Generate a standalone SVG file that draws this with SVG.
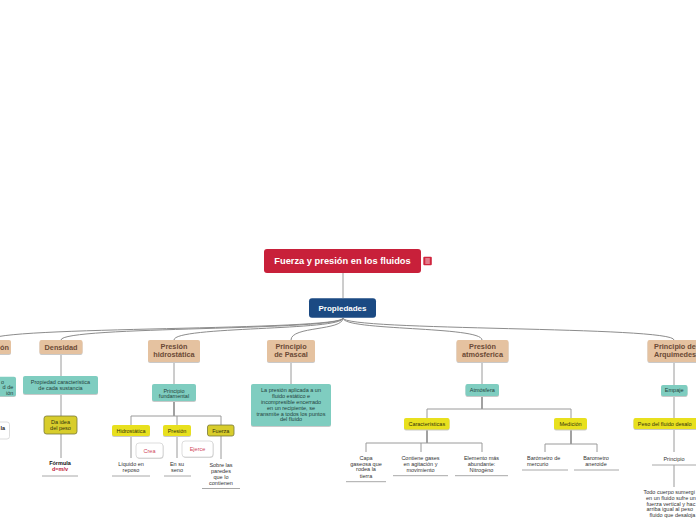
<svg xmlns="http://www.w3.org/2000/svg" width="696" height="520" viewBox="0 0 696 520">
<style>
text{font-family:"Liberation Sans",Arial,sans-serif}
.bg{fill:#ffffff}
.c{fill:none;stroke:#8c8c8c;stroke-width:1}
.t{fill:none;stroke:#9a9a9a;stroke-width:1}
.tk{fill:none;stroke:#6f6f6f;stroke-width:1.3}
.ul{fill:none;stroke:#a8a8a8;stroke-width:1}
.sh{fill:#c9c9c9}
.tan{fill:#e5c2a0}
.teal{fill:#7fcdc0}
.yel{fill:#e8e01e}
.dyel{fill:#d8cd2c;stroke:#77773a;stroke-width:0.8}
.call{fill:#ffffff;stroke:#d4d4d4;stroke-width:0.8}
.lt{font-size:7.3px;font-weight:bold;fill:#6b4a36;text-anchor:middle}
.s{font-size:5.5px;fill:#333333;text-anchor:middle}
.st{font-size:5.5px;fill:#1f3f3b;text-anchor:middle}
.sy{font-size:5.5px;fill:#33330c;text-anchor:middle}
.red{font-size:5.5px;fill:#d0455a;text-anchor:middle}
</style>
<rect class="bg" x="0" y="0" width="696" height="520"/>

<g id="connectors">
<line class="t" x1="343" y1="273" x2="343" y2="298"/>
<path class="c" d="M343,318 C343,331 -10,326 -10,340"/>
<path class="c" d="M343,318 C343,331 61,326 61,340"/>
<path class="c" d="M343,318 C343,331 174,326 174,340"/>
<path class="c" d="M343,318 C343,331 291,326 291,340"/>
<path class="c" d="M343,318 C343,331 482,326 482,340"/>
<path class="c" d="M343,318 C343,331 674,326 674,340"/>
<!-- Densidad -->
<line class="t" x1="61" y1="354" x2="61" y2="376"/>
<line class="t" x1="61" y1="394" x2="61" y2="416"/>
<line class="t" x1="61" y1="434" x2="61" y2="458"/>
<!-- Presion hidrostatica -->
<line class="t" x1="174" y1="362" x2="174" y2="384"/>
<line class="tk" x1="174" y1="401" x2="174" y2="416"/>
<polyline class="t" points="131,425 131,416 221,416 221,425"/>
<line class="t" x1="177" y1="416" x2="177" y2="425"/>
<line class="t" x1="131" y1="436" x2="131" y2="458"/>
<line class="t" x1="177" y1="436" x2="177" y2="458"/>
<line class="t" x1="221" y1="436" x2="221" y2="459"/>
<!-- Pascal -->
<line class="t" x1="291" y1="362" x2="291" y2="384"/>
<!-- Atmosferica -->
<line class="t" x1="482" y1="362" x2="482" y2="384"/>
<line class="tk" x1="482" y1="396" x2="482" y2="409"/>
<polyline class="t" points="427,418 427,409 571,409 571,418"/>
<line class="tk" x1="427" y1="430" x2="427" y2="443"/>
<polyline class="t" points="366,452 366,443 482,443 482,452"/>
<line class="t" x1="421" y1="443" x2="421" y2="452"/>
<line class="tk" x1="571" y1="430" x2="571" y2="444"/>
<polyline class="t" points="545,452 545,444 597,444 597,452"/>
<!-- Arquimedes -->
<line class="t" x1="674" y1="362" x2="674" y2="385"/>
<line class="t" x1="674" y1="396" x2="674" y2="418"/>
<line class="t" x1="674" y1="429" x2="674" y2="452"/>
<line class="t" x1="674" y1="465" x2="674" y2="487"/>
</g>

<g id="root">
<rect x="264" y="249" width="157" height="24" rx="3" fill="#c8203a"/>
<text x="342.5" y="264.3" font-size="9.3" font-weight="bold" fill="#ffffff" text-anchor="middle">Fuerza y presión en los fluidos</text>
<rect x="423.3" y="256.7" width="8.5" height="8.5" rx="1" fill="#d0263f"/>
<path d="M425.3,259 h4.5 M425.3,261 h4.5 M425.3,263 h4.5" stroke="#ffffff" stroke-width="0.8"/>
</g>

<g id="propiedades">
<rect x="309" y="298.3" width="67" height="19.5" rx="3" fill="#1b4a83"/>
<text x="342.5" y="310.8" font-size="8" font-weight="bold" fill="#ffffff" text-anchor="middle">Propiedades</text>
</g>

<!-- left partial branch -->
<g id="n-left">
<rect class="sh" x="-30" y="341" width="41" height="14" rx="2"/>
<rect class="tan" x="-30" y="340" width="41" height="14" rx="2"/>
<text class="lt" x="9" y="349.5" style="text-anchor:end">ón</text>
</g>
<g id="n-left-child">
<rect class="sh" x="-30" y="377.5" width="46" height="19.5" rx="2"/>
<rect class="teal" x="-30" y="376.7" width="46" height="19.5" rx="2"/>
<text class="st" x="4" y="383.7" style="text-anchor:end">o</text>
<text class="st" x="13.3" y="389.3" style="text-anchor:end">d de</text>
<text class="st" x="13.3" y="394.7" style="text-anchor:end">ión</text>
</g>
<g id="n-left-formula">
<rect class="call" x="-20" y="422" width="29.5" height="17" rx="2.5"/>
<text x="5" y="430.3" font-size="5.5" font-weight="bold" fill="#222222" text-anchor="end">la</text>
</g>

<!-- Densidad -->
<g id="n-densidad">
<rect class="sh" x="39.5" y="341" width="43" height="14" rx="2"/>
<rect class="tan" x="39.5" y="340" width="43" height="14" rx="2"/>
<text class="lt" x="61" y="349.5">Densidad</text>
</g>
<g id="n-propiedad">
<rect class="sh" x="23" y="377" width="75" height="18" rx="2"/>
<rect class="teal" x="23" y="376" width="75" height="18" rx="2"/>
<text class="st" x="60.5" y="384.3">Propiedad característica</text>
<text class="st" x="60.5" y="389.7">de cada sustancia</text>
</g>
<g id="n-daidea">
<rect class="dyel" x="44" y="416" width="33" height="18" rx="2.5"/>
<text class="sy" x="60.5" y="423.7">Da idea</text>
<text class="sy" x="60.5" y="430.3">del peso</text>
</g>
<g id="n-formula">
<text x="60" y="464.7" font-size="5.5" font-weight="bold" fill="#111111" text-anchor="middle">Fórmula</text>
<text x="60" y="471" font-size="5.5" font-weight="bold" fill="#c0203a" text-anchor="middle">d=m/v</text>
<line class="ul" x1="42" y1="476" x2="78" y2="476"/>
</g>

<!-- Presion hidrostatica -->
<g id="n-hidro">
<rect class="sh" x="148" y="341" width="52" height="22" rx="2"/>
<rect class="tan" x="148" y="340" width="52" height="22" rx="2"/>
<text class="lt" x="174" y="348.5">Presión</text>
<text class="lt" x="174" y="356.5">hidrostática</text>
</g>
<g id="n-principio-fund">
<rect class="sh" x="152" y="385" width="44" height="17" rx="2"/>
<rect class="teal" x="152" y="384" width="44" height="17" rx="2"/>
<text class="st" x="174" y="392.5">Principio</text>
<text class="st" x="174" y="397.8">fundamental</text>
</g>
<g id="n-hidrostatica">
<rect class="sh" x="112" y="426" width="38" height="11" rx="2"/>
<rect class="yel" x="112" y="425" width="38" height="11" rx="2"/>
<text class="sy" x="131" y="432.5">Hidrostática</text>
</g>
<g id="n-presion">
<rect class="sh" x="163" y="426" width="28" height="11" rx="2"/>
<rect class="yel" x="163" y="425" width="28" height="11" rx="2"/>
<text class="sy" x="177" y="432.5">Presión</text>
</g>
<g id="n-fuerza">
<rect class="dyel" x="207.5" y="425" width="26.5" height="11" rx="2"/>
<text class="sy" x="220.8" y="432.5">Fuerza</text>
</g>
<g id="n-crea">
<rect class="sh" x="136.5" y="443.8" width="27" height="15" rx="3"/>
<rect class="call" x="136" y="443" width="27" height="15" rx="3"/>
<text class="red" x="149.5" y="452.5">Crea</text>
</g>
<g id="n-ejerce">
<rect class="sh" x="182.5" y="441.8" width="31" height="16" rx="3"/>
<rect class="call" x="182" y="441" width="31" height="16" rx="3"/>
<text class="red" x="197.5" y="450.8">Ejerce</text>
</g>
<g id="n-liquido">
<text class="s" x="131" y="466">Líquido en</text>
<text class="s" x="131" y="472">reposo</text>
<line class="ul" x1="112" y1="476" x2="150" y2="476"/>
</g>
<g id="n-ensuseno">
<text class="s" x="177" y="466">En su</text>
<text class="s" x="177" y="472">seno</text>
<line class="ul" x1="164" y1="476" x2="191" y2="476"/>
</g>
<g id="n-sobre">
<text class="s" x="221" y="467">Sobre las</text>
<text class="s" x="221" y="473.2">paredes</text>
<text class="s" x="221" y="479.2">que lo</text>
<text class="s" x="221" y="485.3">contienen</text>
<line class="ul" x1="202" y1="488.5" x2="240" y2="488.5"/>
</g>

<!-- Pascal -->
<g id="n-pascal">
<rect class="sh" x="267" y="341" width="48" height="22" rx="2"/>
<rect class="tan" x="267" y="340" width="48" height="22" rx="2"/>
<text class="lt" x="291" y="348.5">Principio</text>
<text class="lt" x="291" y="356.5">de Pascal</text>
</g>
<g id="n-pascal-def">
<rect class="sh" x="251" y="385" width="80" height="42" rx="2"/>
<rect class="teal" x="251" y="384" width="80" height="42" rx="2"/>
<text class="st" x="291" y="392">La presión aplicada a un</text>
<text class="st" x="291" y="398">fluido estático e</text>
<text class="st" x="291" y="403.7">incompresible encerrado</text>
<text class="st" x="291" y="409.6">en un recipiente, se</text>
<text class="st" x="291" y="415.5">transmite a todos los puntos</text>
<text class="st" x="291" y="421.4">del fluido</text>
</g>

<!-- Presion atmosferica -->
<g id="n-atmos">
<rect class="sh" x="456.5" y="341" width="52" height="22" rx="2"/>
<rect class="tan" x="456.5" y="340" width="52" height="22" rx="2"/>
<text class="lt" x="482.5" y="348.5">Presión</text>
<text class="lt" x="482.5" y="356.5">atmósferica</text>
</g>
<g id="n-atmosfera">
<rect class="sh" x="465.5" y="385" width="33.5" height="12" rx="2"/>
<rect class="teal" x="465.5" y="384" width="33.5" height="12" rx="2"/>
<text class="st" x="482.3" y="392.2">Atmósfera</text>
</g>
<g id="n-caract">
<rect class="sh" x="404" y="419" width="45.5" height="11.5" rx="2"/>
<rect class="yel" x="404" y="418" width="45.5" height="11.5" rx="2"/>
<text class="sy" x="426.8" y="425.9">Características</text>
</g>
<g id="n-medicion">
<rect class="sh" x="554" y="419" width="33" height="11.5" rx="2"/>
<rect class="yel" x="554" y="418" width="33" height="11.5" rx="2"/>
<text class="sy" x="570.5" y="425.9">Medición</text>
</g>
<g id="n-capa">
<text class="s" x="366" y="459.8">Capa</text>
<text class="s" x="366" y="465.5">gaseosa que</text>
<text class="s" x="366" y="471.4">rodea la</text>
<text class="s" x="366" y="477.7">tierra</text>
<line class="ul" x1="346" y1="481.7" x2="386" y2="481.7"/>
</g>
<g id="n-contiene">
<text class="s" x="420.5" y="459.8">Contiene gases</text>
<text class="s" x="420.5" y="466">en agitación y</text>
<text class="s" x="420.5" y="472">movimiento</text>
<line class="ul" x1="393" y1="475.7" x2="448" y2="475.7"/>
</g>
<g id="n-elemento">
<text class="s" x="481.5" y="459.8">Elemento más</text>
<text class="s" x="481.5" y="466">abundante:</text>
<text class="s" x="481.5" y="472">Nitrogéno</text>
<line class="ul" x1="455" y1="475.7" x2="508" y2="475.7"/>
</g>
<g id="n-barometro-hg">
<text class="s" x="527" y="459.8" style="text-anchor:start">Barómetro de</text>
<text class="s" x="527" y="466.3" style="text-anchor:start">mercurio</text>
<line class="ul" x1="522" y1="470" x2="568" y2="470"/>
</g>
<g id="n-barometro-an">
<text class="s" x="596" y="459.8">Barometro</text>
<text class="s" x="596" y="466.3">aneroide</text>
<line class="ul" x1="574" y1="470" x2="619" y2="470"/>
</g>

<!-- Arquimedes -->
<g id="n-arqui">
<rect class="sh" x="647.5" y="341" width="56" height="22" rx="2"/>
<rect class="tan" x="647.5" y="340" width="56" height="22" rx="2"/>
<text class="lt" x="675" y="348.5">Principio de</text>
<text class="lt" x="675" y="356.5">Arquimedes</text>
</g>
<g id="n-empaje">
<rect class="sh" x="661" y="386" width="26.5" height="11" rx="2"/>
<rect class="teal" x="661" y="385" width="26.5" height="11" rx="2"/>
<text class="st" x="674.2" y="392.4">Empaje</text>
</g>
<g id="n-peso">
<rect class="sh" x="633.5" y="419" width="70" height="11" rx="2"/>
<rect class="yel" x="633.5" y="418" width="70" height="11" rx="2"/>
<text class="sy" x="637.8" y="425.6" style="text-anchor:start">Peso del fluido desalo</text>
</g>
<g id="n-principio-arq">
<text class="s" x="674" y="461">Principio</text>
<line class="ul" x1="652" y1="465" x2="696" y2="465"/>
</g>
<g id="n-todo">
<text class="s" x="643.5" y="494.2" style="text-anchor:start">Todo cuerpo sumergi</text>
<text class="s" x="646" y="499.9" style="text-anchor:start">en un fluido sufre un</text>
<text class="s" x="646.5" y="505.6" style="text-anchor:start">fuerza vertical y hac</text>
<text class="s" x="646.5" y="511.3" style="text-anchor:start">arriba igual al peso</text>
<text class="s" x="649.5" y="517" style="text-anchor:start">fluido que desaloja</text>
</g>
</svg>
